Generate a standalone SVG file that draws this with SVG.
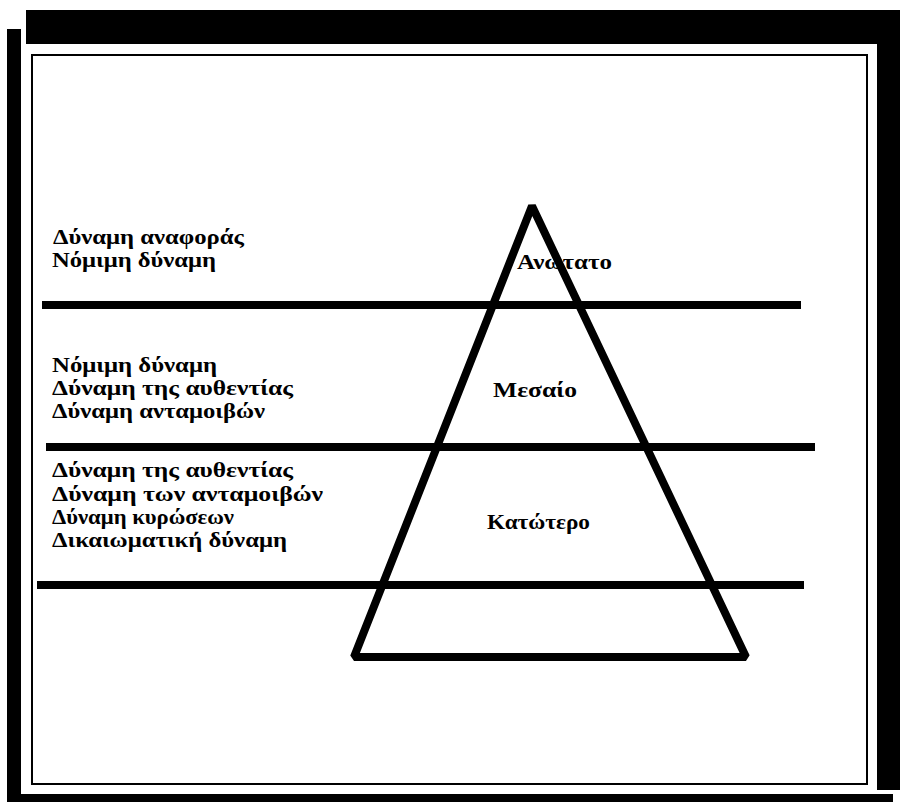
<svg xmlns="http://www.w3.org/2000/svg" width="900" height="802" viewBox="0 0 900 802">
<style>
.t{font-family:"Liberation Serif","Times New Roman",serif;font-weight:bold;font-size:22px;fill:#000}
.band{fill:#000}
.ln{stroke:#000;stroke-width:8;fill:none}
</style>
<rect width="900" height="802" fill="#fff"/>
<g id="frame">
<rect class="band" x="26" y="10" width="874" height="34"/>
<rect class="band" x="7" y="29" width="14" height="773"/>
<rect class="band" x="877" y="10" width="23" height="780"/>
<rect class="band" x="7" y="794" width="886" height="8"/>
<rect x="32" y="55" width="835" height="729" fill="none" stroke="#000" stroke-width="2"/>
</g>
<g id="labels-top">
<text class="t" x="53" y="244" textLength="191" lengthAdjust="spacingAndGlyphs">Δύναμη αναφοράς</text>
<text class="t" x="52" y="267" textLength="164" lengthAdjust="spacingAndGlyphs">Νόμιμη δύναμη</text>
</g>
<g id="labels-middle">
<text class="t" x="52" y="372" textLength="165" lengthAdjust="spacingAndGlyphs">Νόμιμη δύναμη</text>
<text class="t" x="52" y="395" textLength="241" lengthAdjust="spacingAndGlyphs">Δύναμη της αυθεντίας</text>
<text class="t" x="52" y="418" textLength="213" lengthAdjust="spacingAndGlyphs">Δύναμη ανταμοιβών</text>
</g>
<g id="labels-bottom">
<text class="t" x="52" y="477" textLength="241" lengthAdjust="spacingAndGlyphs">Δύναμη της αυθεντίας</text>
<text class="t" x="52" y="501" textLength="271" lengthAdjust="spacingAndGlyphs">Δύναμη των ανταμοιβών</text>
<text class="t" x="52" y="524" textLength="182" lengthAdjust="spacingAndGlyphs">Δύναμη κυρώσεων</text>
<text class="t" x="52" y="547" textLength="235" lengthAdjust="spacingAndGlyphs">Δικαιωματική δύναμη</text>
</g>
<g id="level-top"><text class="t" x="517" y="269" textLength="95" lengthAdjust="spacingAndGlyphs">Ανώτατο</text></g>
<g id="level-middle"><text class="t" x="493" y="397" textLength="84" lengthAdjust="spacingAndGlyphs">Μεσαίο</text></g>
<g id="level-bottom"><text class="t" x="487" y="529" textLength="103" lengthAdjust="spacingAndGlyphs">Κατώτερο</text></g>
<g id="connectors">
<line class="ln" x1="42" y1="305" x2="801" y2="305"/>
<line class="ln" x1="46" y1="447" x2="815" y2="447"/>
<line class="ln" x1="37" y1="585" x2="804" y2="585"/>
</g>
<g id="pyramid">
<polygon points="532,206 354,657 746,657" fill="none" stroke="#000" stroke-width="8" stroke-linejoin="bevel"/>
</g>
</svg>
